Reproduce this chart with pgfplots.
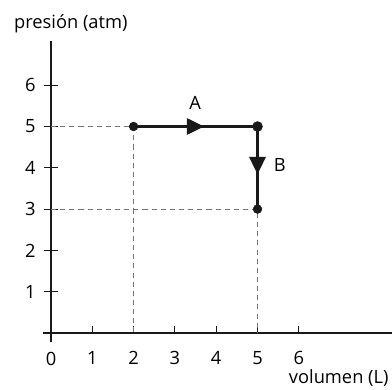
\documentclass[border=0pt]{standalone}
\usepackage{fontspec}
\setmainfont{Open Sans}
\usepackage{pgfplots}
\pgfplotsset{compat=1.18}
\usetikzlibrary{decorations.markings,arrows.meta}
\newcommand{\lbl}{\fontsize{12.6pt}{14pt}\selectfont}
\begin{document}
\begin{tikzpicture}
\begin{axis}[
  anchor=origin, at={(0,0)},
  x=1cm, y=1cm,
  xmin=-0.2, xmax=8.26, ymin=-0.22, ymax=7.08,
  axis lines=middle,
  axis line style={-, line width=1.3pt, black!90},
  hide obscured x ticks=false,
  hide obscured y ticks=false,
  xtick={0,1,2,3,4,5,6},
  ytick={1,2,3,4,5,6},
  x tick style={draw=none},
  y tick style={line width=0.8pt, black!90},
  tick align=center,
  major tick length=0.34cm,
  ticklabel style={font=\lbl},
  /pgf/number format/assume math mode=true,
  xticklabel style={anchor=north, yshift=-0.16cm},
  yticklabel style={anchor=east, xshift=-0.08cm},
  clip=false,
]
% x ticks (inside only)
\addplot[ycomb, line width=0.8pt, black!90, no marks] coordinates {(1,0.17) (2,0.17) (3,0.17) (4,0.17) (5,0.17) (6,0.17)};
% dashed guide lines
\addplot[dash pattern=on 3.5pt off 2.8pt, line width=0.8pt, gray!90!black, no marks] coordinates {(0,5) (2,5) (2,0)};
\addplot[dash pattern=on 3.5pt off 2.8pt, line width=0.8pt, gray!90!black, no marks] coordinates {(0,3) (5,3) (5,0)};
% process A
\addplot[line width=2.2pt, black!90, no marks,
  postaction={decorate},
  decoration={markings, mark=at position 0.57 with {\arrow{Triangle[length=12pt,width=11pt]}}}]
  coordinates {(2,5) (5,5)};
% process B
\addplot[line width=2.2pt, black!90, no marks,
  postaction={decorate},
  decoration={markings, mark=at position 0.58 with {\arrow{Triangle[length=12pt,width=11pt]}}}]
  coordinates {(5,5) (5,3)};
% points
\addplot[only marks, mark=*, mark size=3pt, black!90] coordinates {(2,5) (5,3)};
\addplot[only marks, mark=*, mark size=3.4pt, black!90] coordinates {(5,5)};
\node[font=\lbl] at (axis cs:3.49,5.56) {A};
\node[font=\lbl] at (axis cs:5.54,4.06) {B};
\node[font=\lbl, anchor=base west, inner sep=0pt] at (axis cs:-0.90,7.37) {presión (atm)};
\node[font=\lbl, anchor=base east, inner sep=0pt] at (axis cs:8.18,-1.23) {volumen (L)};
\end{axis}
\pgfresetboundingbox
\path[use as bounding box] (-1.235,-1.38) rectangle (8.257,8.063);
\end{tikzpicture}
\end{document}
